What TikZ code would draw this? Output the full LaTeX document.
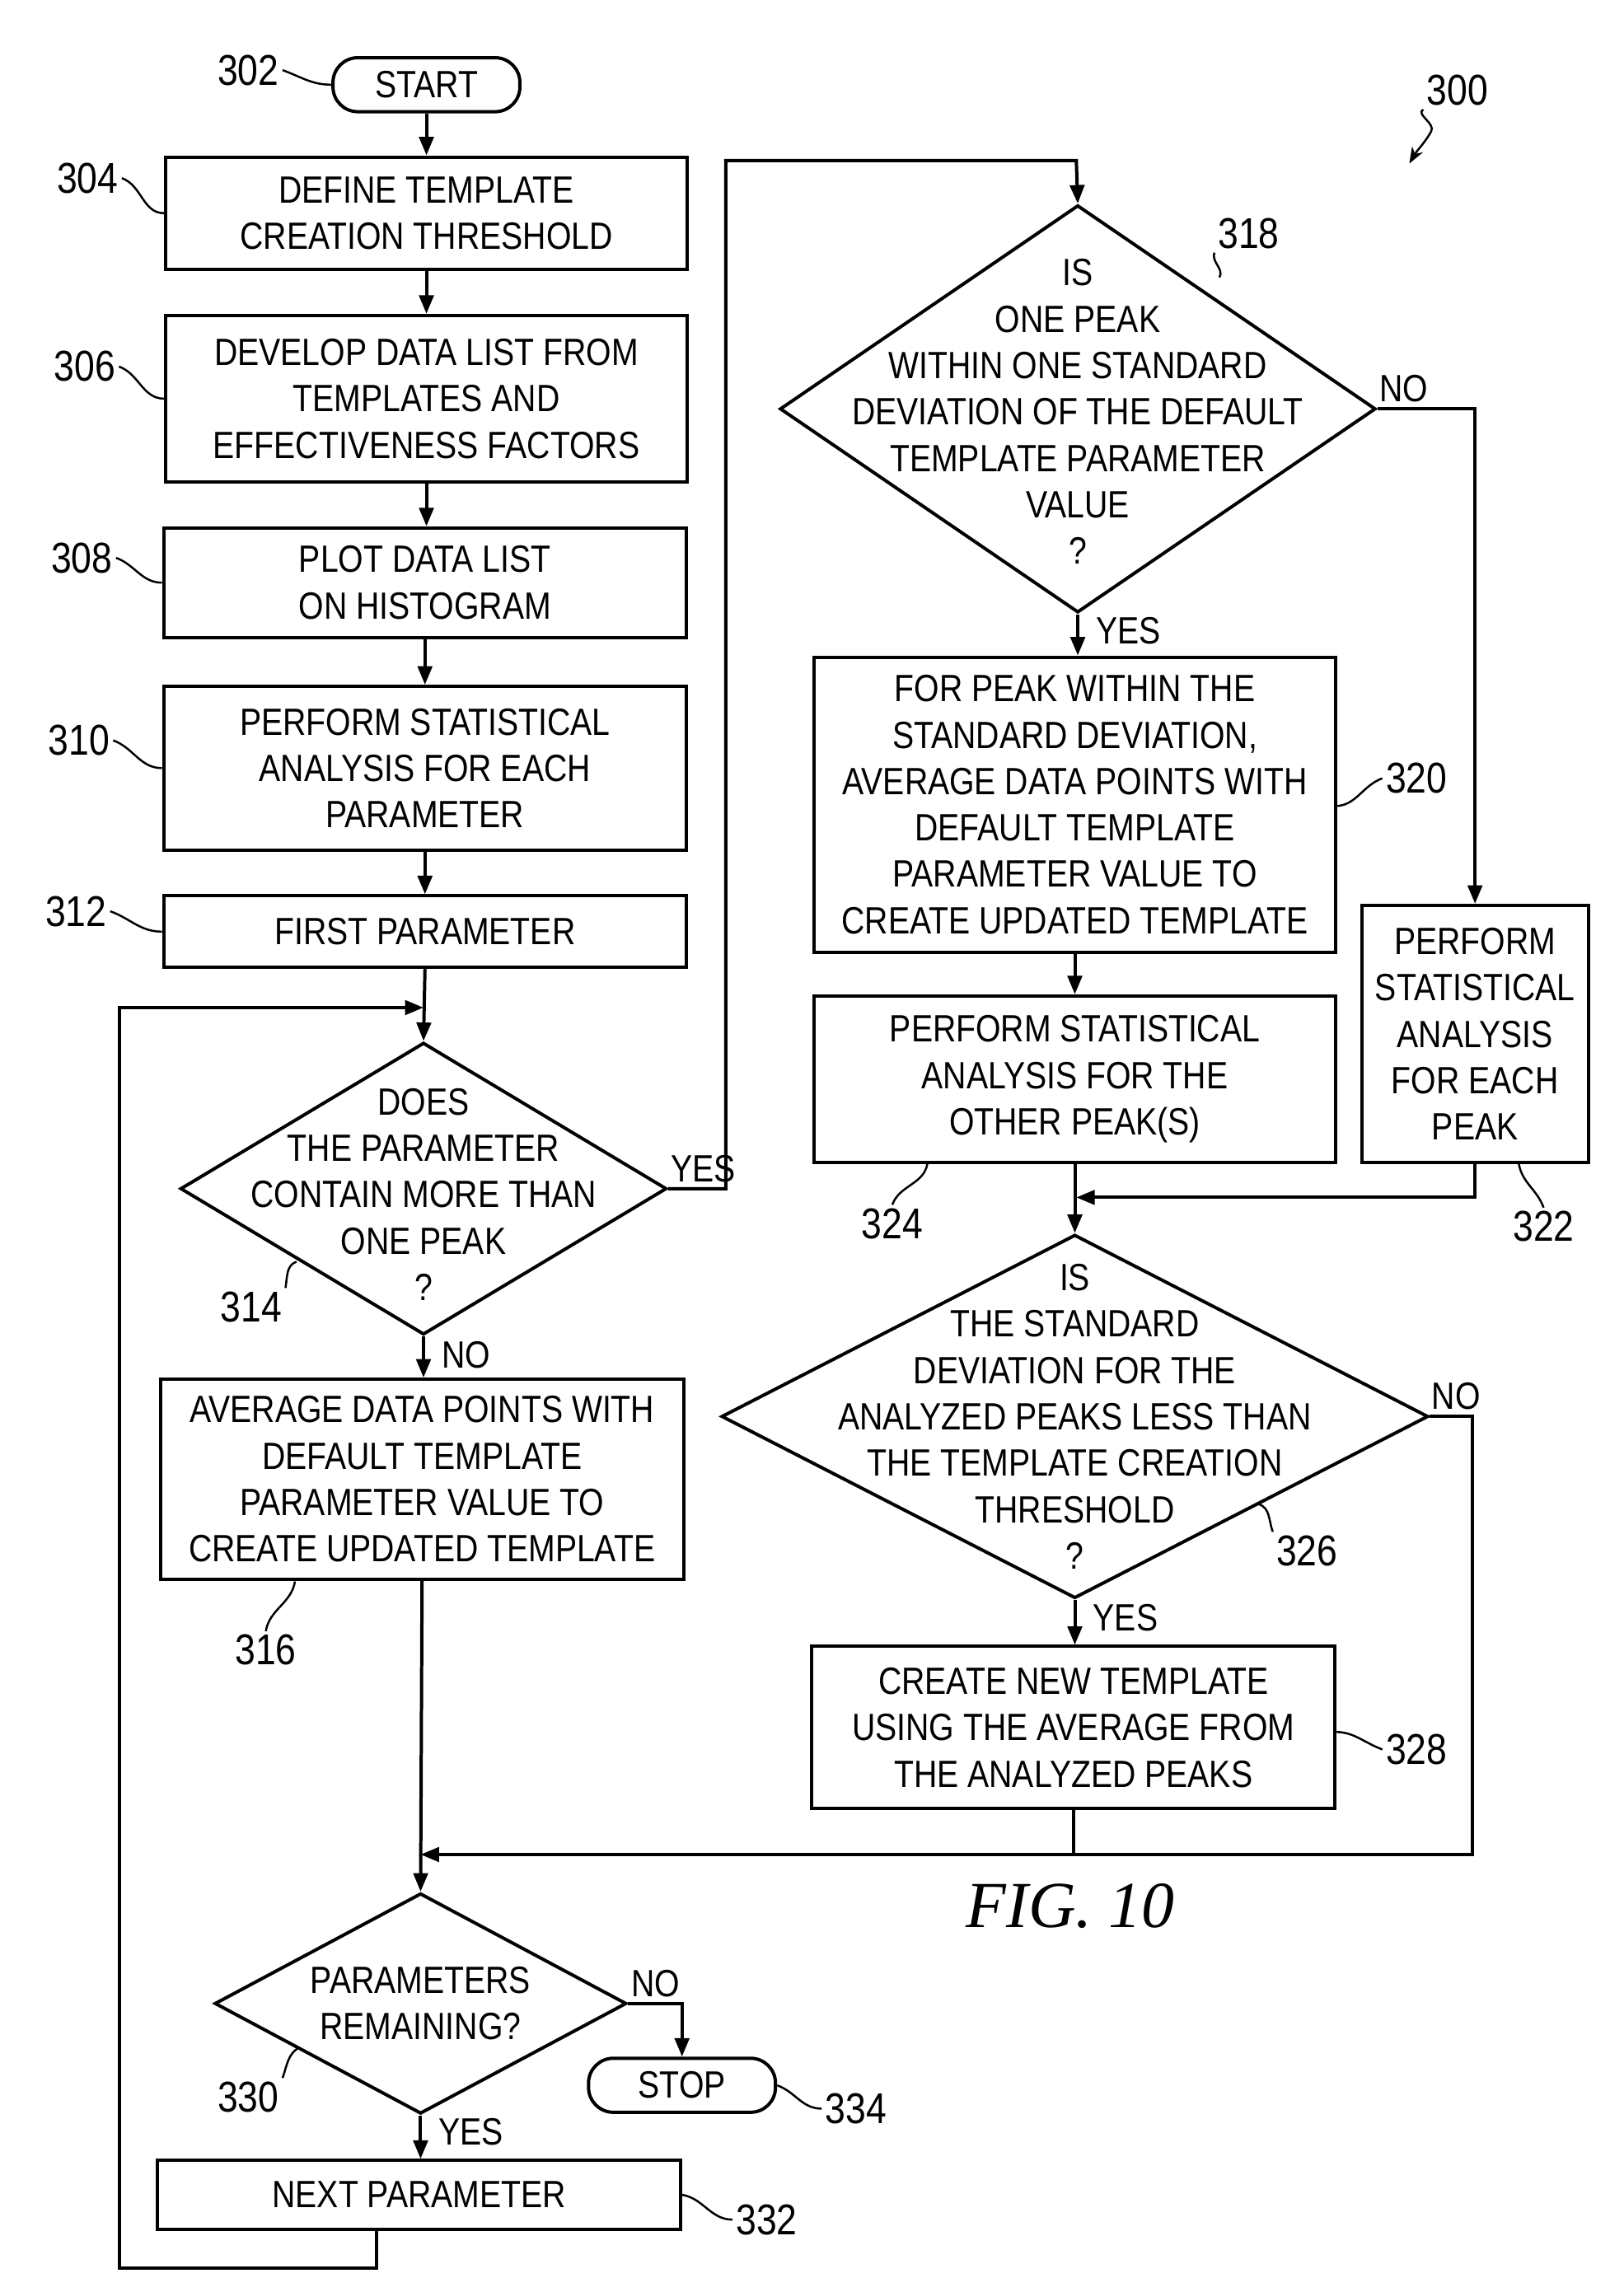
\documentclass[tikz,border=0pt]{standalone}
\usepackage{fontspec}
\setmainfont{Liberation Sans}[FakeStretch=0.85]
\newfontfamily\figfont{Liberation Serif}
\usetikzlibrary{shapes.geometric,arrows.meta}
\def\uu{0.025cm}
\begin{document}
\begin{tikzpicture}[x=0.025cm,y=-0.025cm,line width=1.6pt,
  txt/.style={font=\fontsize{18.5pt}{22.6pt}\selectfont,align=center,inner sep=0},
  box/.style={draw,txt,rectangle},
  term/.style={draw,txt,rounded corners=17*\uu,minimum width=128*\uu,minimum height=37*\uu},
  dia/.style={draw,diamond,inner sep=0},
  ref/.style={font=\fontsize{21pt}{24pt}\selectfont,inner sep=1pt},
  lbl/.style={font=\fontsize{18.5pt}{22pt}\selectfont,inner sep=1pt},
  arr/.style={-{Triangle[length=9pt,width=7pt]}},
  sq/.style={line width=1pt}]
\useasboundingbox (0,0) rectangle (1112,1560);
% left column
\node[term] (start) at (292,58) {START};
\node[box,minimum width=357*\uu,minimum height=77*\uu] (b304) at (292,146) {DEFINE TEMPLATE\\CREATION THRESHOLD};
\node[box,minimum width=357*\uu,minimum height=114*\uu] (b306) at (292,273) {DEVELOP DATA LIST FROM\\TEMPLATES AND\\EFFECTIVENESS FACTORS};
\node[box,minimum width=358*\uu,minimum height=75*\uu] (b308) at (291,399) {PLOT DATA LIST\\ON HISTOGRAM};
\node[box,minimum width=358*\uu,minimum height=112*\uu] (b310) at (291,526) {PERFORM STATISTICAL\\ANALYSIS FOR EACH\\PARAMETER};
\node[box,minimum width=358*\uu,minimum height=49*\uu] (b312) at (291,638) {FIRST PARAMETER};
\node[dia,minimum width=333*\uu,minimum height=200*\uu,aspect=1.665] (d314) at (290,814) {};
\node[txt] at (290,818) {DOES\\THE PARAMETER\\CONTAIN MORE THAN\\ONE PEAK\\?};
\node[box,minimum width=358*\uu,minimum height=137*\uu] (b316) at (289,1013) {AVERAGE DATA POINTS WITH\\DEFAULT TEMPLATE\\PARAMETER VALUE TO\\CREATE UPDATED TEMPLATE};
\node[dia,minimum width=282*\uu,minimum height=151*\uu,aspect=1.87] (d330) at (288,1372) {};
\node[txt] at (288,1372) {PARAMETERS\\REMAINING?};
\node[term] (stop) at (467,1428) {STOP};
\node[box,minimum width=358*\uu,minimum height=47*\uu] (b332) at (287,1503) {NEXT PARAMETER};
% right column
\node[dia,minimum width=408*\uu,minimum height=279*\uu,aspect=1.46] (d318) at (738,280) {};
\node[txt] at (738,282) {IS\\ONE PEAK\\WITHIN ONE STANDARD\\DEVIATION OF THE DEFAULT\\TEMPLATE PARAMETER\\VALUE\\?};
\node[box,minimum width=357*\uu,minimum height=202*\uu] (b320) at (736,551) {FOR PEAK WITHIN THE\\STANDARD DEVIATION,\\AVERAGE DATA POINTS WITH\\DEFAULT TEMPLATE\\PARAMETER VALUE TO\\CREATE UPDATED TEMPLATE};
\node[box,minimum width=357*\uu,minimum height=114*\uu] (b324) at (736,739) {PERFORM STATISTICAL\\ANALYSIS FOR THE\\OTHER PEAK(S)};
\node[box,minimum width=155*\uu,minimum height=176*\uu] (b322) at (1010,708) {PERFORM\\STATISTICAL\\ANALYSIS\\FOR EACH\\PEAK};
\node[dia,minimum width=484*\uu,minimum height=249*\uu,aspect=1.94] (d326) at (736,970) {};
\node[txt] at (736,970) {IS\\THE STANDARD\\DEVIATION FOR THE\\ANALYZED PEAKS LESS THAN\\THE TEMPLATE CREATION\\THRESHOLD\\?};
\node[box,minimum width=358*\uu,minimum height=111*\uu] (b328) at (735,1183) {CREATE NEW TEMPLATE\\USING THE AVERAGE FROM\\THE ANALYZED PEAKS};
\node[font=\figfont\itshape\fontsize{32pt}{36pt}\selectfont] (fig) at (733,1305) {FIG. 10};
% coordinates
\coordinate (j1) at (290,690);
\coordinate (j2) at (288,1270);
\coordinate (j3) at (737,820);
% connectors
\draw[arr] (start) -- (b304);
\draw[arr] (b304) -- (b306);
\draw[arr] (b306.south) -- (b306.south|-b308.north);
\draw[arr] (b308) -- (b310);
\draw[arr] (b310) -- (b312);
\draw[arr] (b312.south) -- (d314.north);
\draw[arr] (d314.south) -- (d314.south|-b316.north);
\draw[arr] (b316.south) -- (d330.north);
\draw[arr] (d330.south) -- (d330.south|-b332.north);
\draw[arr] (d330.east) -- (467,1372) -- (stop.north);
\draw[arr] (258,1527) -- (258,1553) -- (82,1553) -- (82,690) -- (j1);
\draw[arr] (d314.east) -- (497,814) -- (497,110) -- (737,110) -- (d318.north);
\draw[arr] (d318.south) -- (d318.south|-b320.north);
\draw[arr] (d318.east) -- (1010,280) -- (b322.north);
\draw[arr] (b320.south) -- (b320.south|-b324.north);
\draw[arr] (b322.south) -- (1010,820) -- (j3);
\draw[arr] (b324.south) -- (d326.north);
\draw[arr] (d326.south) -- (d326.south|-b328.north);
\draw[arr] (d326.east) -- (1008,970) -- (1008,1270) -- (j2);
\draw (b328.south) -- (735,1270);
% yes/no
\node[lbl,anchor=south west] at (457,812) {YES};
\node[lbl,anchor=north west] at (300,916) {NO};
\node[lbl,anchor=south west] at (942,278) {NO};
\node[lbl,anchor=north west] at (748,420) {YES};
\node[lbl,anchor=south west] at (978,968) {NO};
\node[lbl,anchor=north west] at (746,1096) {YES};
\node[lbl,anchor=south west] at (430,1370) {NO};
\node[lbl,anchor=north west] at (298,1448) {YES};
% reference numerals
\node[ref] (r302) at (170,48) {302};
\draw[sq] (r302.east) to[out=-20,in=180] (start.west);
\node[ref] (r300) at (998,62) {300};
\coordinate (c300) at (965,112);
\draw[sq,-{Stealth[length=8pt]}] (r300.south west) to[out=-150,in=60] (980,90) to[out=-120,in=60] (c300);
\node[ref] (r304) at (60,122) {304};
\draw[sq] (r304.east) to[out=-20,in=180] (b304.west);
\node[ref] (r306) at (58,251) {306};
\draw[sq] (r306.east) to[out=-20,in=180] (b306.west);
\node[ref] (r308) at (56,382) {308};
\draw[sq] (r308.east) to[out=-20,in=180] (b308.west);
\node[ref] (r310) at (54,507) {310};
\draw[sq] (r310.east) to[out=-20,in=180] (b310.west);
\node[ref] (r312) at (52,624) {312};
\draw[sq] (r312.east) to[out=-20,in=180] (b312.west);
\node[ref] (r314) at (172,895) {314};
\coordinate (c314) at (203,864);
\draw[sq] (r314.north east) to[out=80,in=200] (c314);
\node[ref] (r316) at (182,1130) {316};
\coordinate (c316) at (202,1083);
\draw[sq] (r316.north) to[out=80,in=260] (c316);
\node[ref] (r318) at (855,160) {318};
\coordinate (c318) at (835,190);
\draw[sq] (r318.south west) to[out=-110,in=60] (c318);
\node[ref] (r320) at (970,533) {320};
\draw[sq] (r320.west) to[out=200,in=0] (914,552);
\node[ref] (r324) at (611,838) {324};
\draw[sq] (r324.north) to[out=70,in=260] (635,797);
\node[ref] (r322) at (1057,840) {322};
\draw[sq] (r322.north) to[out=110,in=280] (1040,797);
\node[ref] (r326) at (895,1062) {326};
\coordinate (c326) at (862,1030);
\draw[sq] (r326.north west) to[out=110,in=-20] (c326);
\node[ref] (r328) at (970,1198) {328};
\draw[sq] (r328.west) to[out=160,in=0] (914,1186);
\node[ref] (r330) at (170,1436) {330};
\coordinate (c330) at (205,1402);
\draw[sq] (r330.north east) to[out=70,in=210] (c330);
\node[ref] (r334) at (586,1444) {334};
\draw[sq] (r334.west) to[out=180,in=-20] (stop.east);
\node[ref] (r332) at (525,1520) {332};
\draw[sq] (r332.west) to[out=180,in=-10] (b332.east);
\end{tikzpicture}
\end{document}
